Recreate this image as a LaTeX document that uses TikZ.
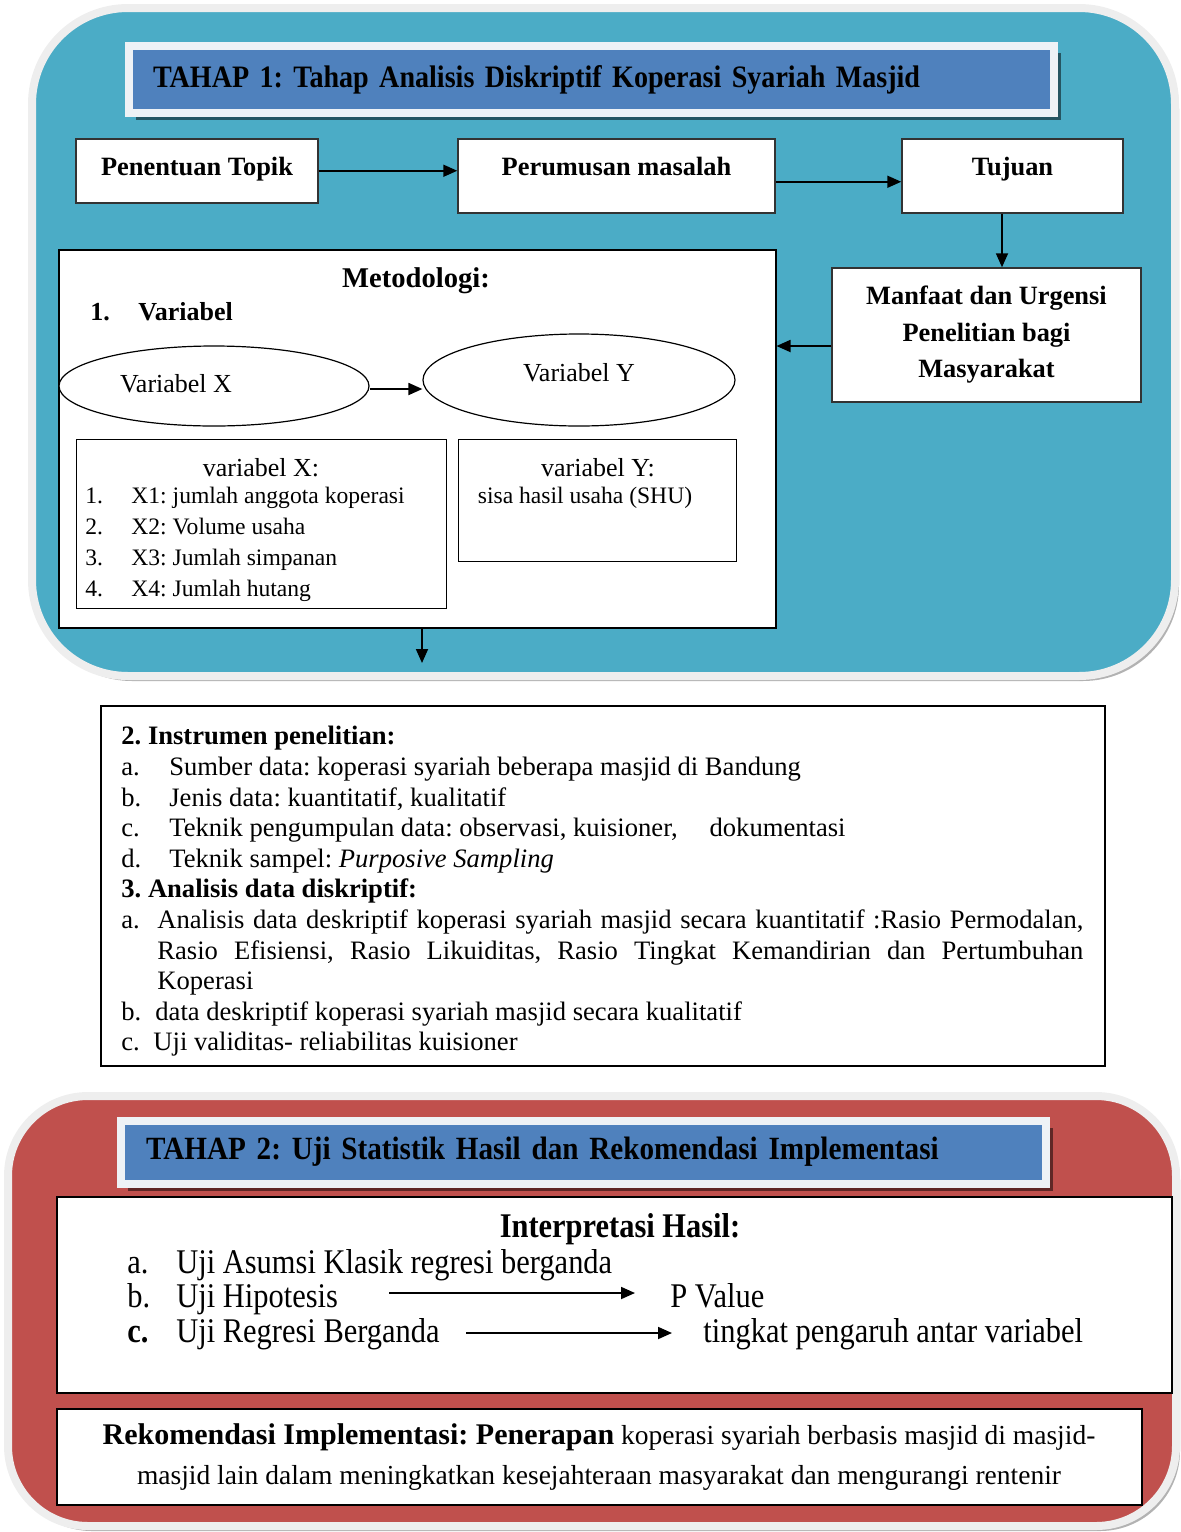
\documentclass[tikz,border=0pt]{standalone}
\usepackage{fontspec}
\setmainfont{Liberation Serif}
\newfontfamily\condfont[FakeStretch=0.9]{Liberation Serif}
\newfontfamily\narrowfont[FakeStretch=0.88]{Liberation Serif}
\usetikzlibrary{shapes.geometric, arrows.meta, shadows}

\definecolor{panelblue}{HTML}{4BACC6}
\definecolor{panelred}{HTML}{C0504D}
\definecolor{barblue}{HTML}{4F81BD}
\definecolor{rimgray}{HTML}{EEEEEE}
\definecolor{barrim}{HTML}{EEF2F6}

\setlength{\parindent}{0pt}
\frenchspacing

\tikzset{
	panel/.style={draw=rimgray, line width=4pt, rounded corners=#1},
	panelshadow/.style={fill=black!30, rounded corners=#1},
	titlebar/.style={draw=barrim, line width=4pt, fill=barblue, align=left,
		drop shadow={shadow xshift=3.5pt, shadow yshift=-3.5pt, opacity=0.5, fill=black},
		font=\condfont\bfseries\fontsize{15.6}{19}\selectfont},
	stepbox/.style={draw=black!80, line width=0.75pt, fill=white, inner sep=0pt, anchor=north,
		font=\bfseries\fontsize{13.2}{16}\selectfont},
	framebox/.style={draw=black, line width=0.75pt, fill=white, inner sep=0pt, anchor=north west},
	oval/.style={ellipse, draw=black, line width=0.6pt, fill=white, inner sep=0pt},
	txt/.style={inner sep=0pt},
	itemfont/.style={font=\narrowfont\fontsize{17.3}{21}\selectfont},
	arr/.style={line width=0.9pt, -{Triangle[length=7pt,width=6pt]}},
}

\begin{document}
\begin{tikzpicture}[x=0.5pt, y=-0.5pt]
	\useasboundingbox (0,0) rectangle (1181,1532);

	% tahap 1
	\fill[panelshadow=48pt] (36,13) rectangle (1179,681);
	\draw[panel=48pt, fill=panelblue] (32,8) rectangle (1175,676);

	\node[titlebar, minimum width=462.5pt, minimum height=33.5pt, inner xsep=12pt, text width=438.5pt] (tahapsatu) at (591.5,79.5) {TAHAP 1: Tahap Analisis Diskriptif Koperasi Syariah Masjid};

	\node[stepbox, minimum width=121pt, text height=18.5pt, text depth=13.5pt] (topik) at (197,138) {Penentuan Topik};
	\node[stepbox, minimum width=158.5pt, text height=18.5pt, text depth=18.5pt] (rumus) at (616.5,138) {Perumusan masalah};
	\node[stepbox, minimum width=110.5pt, text height=18.5pt, text depth=18.5pt] (tujuan) at (1012.5,138) {Tujuan};
	\node[stepbox, anchor=center, align=center, minimum width=154.5pt, minimum height=67pt, font=\bfseries\fontsize{13.2}{18.25}\selectfont] (manfaat) at (986.5,335) {Manfaat dan Urgensi\\Penelitian bagi\\Masyarakat};

	\node[framebox, minimum width=358.5pt, minimum height=189pt] (metod) at (58,249) {};
	\node[txt, anchor=base, font=\bfseries\fontsize{14.3}{17}\selectfont] (metodtitle) at (416,287) {Metodologi:};
	\node[txt, anchor=base west, font=\bfseries\fontsize{13}{16}\selectfont] (varhead) at (90,320) {\makebox[24pt][l]{1.}Variabel};

	\node[oval, minimum width=155pt, minimum height=40pt, label={[xshift=-19pt, yshift=1pt, font=\fontsize{13}{16}\selectfont]center:Variabel X}] (varx) at (214,386) {};
	\node[oval, minimum width=156pt, minimum height=46pt, label={[yshift=3.5pt, font=\fontsize{13}{16}\selectfont]center:Variabel Y}] (vary) at (579,380) {};

	\node[framebox, minimum width=185pt, minimum height=84.5pt, line width=0.6pt] (varxbox) at (76,439) {};
	\node[txt, anchor=base, font=\fontsize{13}{16}\selectfont] (varxtitle) at (261,476) {variabel X:};
	\node[txt, anchor=north west, align=left, font=\fontsize{11.8}{15.5}\selectfont] (varxlist) at (85,487) {\makebox[23pt][l]{1.}X1: jumlah anggota koperasi\\
		\makebox[23pt][l]{2.}X2: Volume usaha\\
		\makebox[23pt][l]{3.}X3: Jumlah simpanan\\
		\makebox[23pt][l]{4.}X4: Jumlah hutang};

	\node[framebox, minimum width=139pt, minimum height=61pt, line width=0.6pt] (varybox) at (458,439) {};
	\node[txt, anchor=base, font=\fontsize{13}{16}\selectfont] (varytitle) at (598,476) {variabel Y:};
	\node[txt, anchor=base, font=\fontsize{11.8}{15}\selectfont] (varytext) at (585,503) {sisa hasil usaha (SHU)};

	\draw[arr] (topik.east) -- (topik.east -| rumus.west);
	\draw[arr] ([yshift=-3pt]rumus.east) -- ([yshift=-3pt]rumus.east -| tujuan.west);
	\draw[arr] ([xshift=-5.25pt]tujuan.south) -- ([xshift=-5.25pt]tujuan.south |- manfaat.north);
	\draw[arr] ([yshift=-5.5pt]manfaat.west) -- ([yshift=-5.5pt]manfaat.west -| metod.east);
	\draw[arr] ([yshift=-1.5pt]varx.east) -- ([yshift=-1.5pt]varx.east -| vary.west);
	\coordinate (metodout) at (422,663);
	\draw[arr] (metodout |- metod.south) -- (metodout);

	% instrumen dan analisis
	\node[framebox, minimum width=502pt, minimum height=180pt, line width=1pt] (instr) at (100,705) {};
	\node[txt, anchor=north west, text width=481pt, align=justify, font=\fontsize{13.3}{15.3}\selectfont] (instrtext) at (121,726) {\tolerance=10000\hyphenpenalty=10000
		\textbf{2. Instrumen penelitian:}\\
		\makebox[24pt][l]{a.}Sumber data: koperasi syariah beberapa masjid di Bandung\\
		\makebox[24pt][l]{b.}Jenis data: kuantitatif, kualitatif\\
		\makebox[24pt][l]{c.}Teknik pengumpulan data: observasi, kuisioner,\hspace{1.2em}dokumentasi\\
		\makebox[24pt][l]{d.}Teknik sampel: \textit{Purposive Sampling}\\
		\textbf{3. Analisis data diskriptif:}\par
		\hangindent=18pt\hangafter=1\makebox[18pt][l]{a.}Analisis data deskriptif koperasi syariah masjid secara kuantitatif :Rasio Permodalan, Rasio Efisiensi, Rasio Likuiditas, Rasio Tingkat Kemandirian dan Pertumbuhan Koperasi\par
		\makebox[17pt][l]{b.}data deskriptif koperasi syariah masjid secara kualitatif\\
		\makebox[16pt][l]{c.}Uji validitas- reliabilitas kuisioner};

	% tahap 2
	\fill[panelshadow=40pt] (12,1100) rectangle (1180,1531);
	\draw[panel=40pt, fill=panelred] (8,1096) rectangle (1176,1526);

	\node[titlebar, minimum width=462.75pt, minimum height=31.5pt, inner xsep=12.75pt, text width=437.25pt, font=\condfont\bfseries\fontsize{16.2}{19}\selectfont] (tahapdua) at (583.25,1152) {TAHAP 2: Uji Statistik Hasil dan Rekomendasi Implementasi};

	\node[framebox, minimum width=557.5pt, minimum height=98pt, line width=1pt] (interp) at (56,1196) {};
	\node[txt, anchor=base, font=\narrowfont\bfseries\fontsize{17.3}{21}\selectfont] (interptitle) at (620,1237) {Interpretasi Hasil:};
	\node[txt, itemfont, anchor=base west] (asumsi) at (127,1273) {\makebox[24.5pt][l]{a.}Uji Asumsi Klasik regresi berganda};
	\node[txt, itemfont, anchor=base west] (hipotesis) at (127,1307) {\makebox[24.5pt][l]{b.}Uji Hipotesis};
	\node[txt, itemfont, anchor=base west] (pvalue) at (670,1307) {P Value};
	\node[txt, itemfont, anchor=base west] (regresi) at (127,1342) {\makebox[24.5pt][l]{\bfseries c.}Uji Regresi Berganda};
	\node[txt, itemfont, anchor=base west] (pengaruh) at (703,1342) {tingkat pengaruh antar variabel};
	\draw[arr] ([xshift=25.5pt, yshift=7pt]hipotesis.base east) -- ([xshift=-17.5pt, yshift=7pt]pvalue.base west);
	\draw[arr] ([xshift=13pt, yshift=4.5pt]regresi.base east) -- ([xshift=-15.5pt, yshift=4.5pt]pengaruh.base west);

	\node[framebox, minimum width=542.5pt, minimum height=48pt, line width=1pt] (rekom) at (56,1408) {};
	\node[txt, align=center, font=\fontsize{13.75}{20}\selectfont] (rekomtext) at (599,1457) {{\bfseries\fontsize{15}{20}\selectfont Rekomendasi Implementasi: Penerapan} koperasi syariah berbasis masjid di masjid-\\masjid lain dalam meningkatkan kesejahteraan masyarakat dan mengurangi rentenir};

\end{tikzpicture}
\end{document}
